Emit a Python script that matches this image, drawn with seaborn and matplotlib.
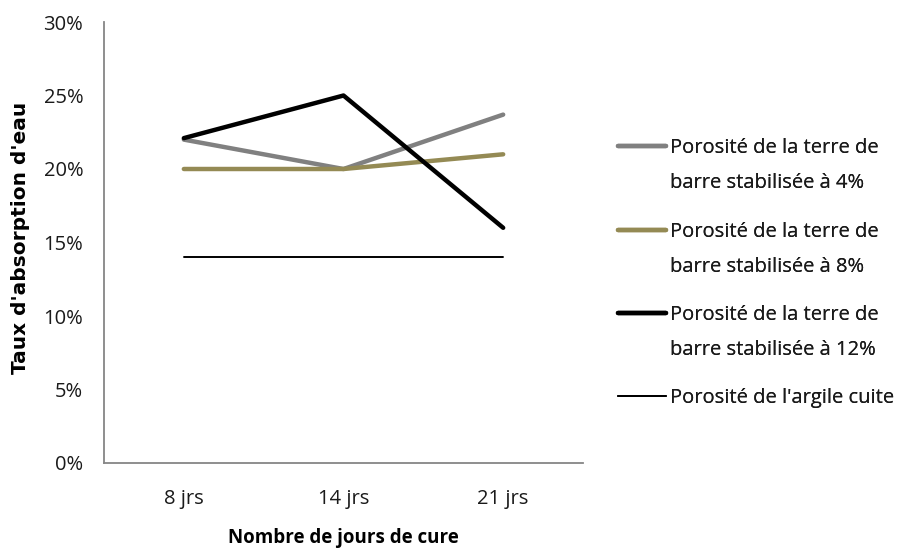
import matplotlib
matplotlib.use("Agg")
import matplotlib.pyplot as plt
import seaborn as sns
import pandas as pd
from matplotlib.ticker import FuncFormatter, FixedLocator

categories = ["8 jrs", "14 jrs", "21 jrs"]
series_names = [
    "Porosité de la terre de\nbarre stabilisée à 4%",
    "Porosité de la terre de\nbarre stabilisée à 8%",
    "Porosité de la terre de\nbarre stabilisée à 12%",
    "Porosité de l'argile cuite",
]
s4 = [0.22, 0.20, 0.237]
s8 = [0.20, 0.20, 0.21]
s12 = [0.221, 0.25, 0.160]
argile = [0.14, 0.14, 0.14]

colors = ["#808080", "#948A54", "#000000", "#000000"]
widths = [3.2, 3.2, 3.2, 1.4]

rows = []
for name, vals in zip(series_names, [s4, s8, s12, argile]):
    for i, (c, v) in enumerate(zip(categories, vals)):
        rows.append({"serie": name, "pos": i, "cat": c, "val": v})
df = pd.DataFrame(rows)

sns.set_theme(style="white")
plt.rcParams["font.family"] = ["Open Sans", "DejaVu Sans"]

fig = plt.figure(figsize=(9.01, 5.53), dpi=100)
ax = fig.add_axes([104/901, 1-463/553, (583-104)/901, (463-22)/553])

sns.lineplot(data=df, x="pos", y="val", hue="serie", hue_order=series_names,
             palette=colors, ax=ax, legend=False)
for line, lw in zip(ax.get_lines(), widths):
    line.set_linewidth(lw)
    line.set_solid_capstyle("round")

ax.set_xlim(-0.5, 2.5)
ax.set_ylim(0, 0.30)
ax.set_yticks([0, 0.05, 0.10, 0.15, 0.20, 0.25, 0.30])
ax.yaxis.set_major_formatter(FuncFormatter(lambda v, p: f"{v*100:.0f}%"))
ax.set_xticks(range(len(categories)))
ax.set_xticklabels(categories)
ax.xaxis.set_minor_locator(FixedLocator([-0.5, 0.5, 1.5, 2.5]))
ax.tick_params(axis="x", which="major", length=0, pad=19, labelsize=14.5, colors="#1a1a1a")
ax.tick_params(axis="x", which="minor", length=5, width=1.3, color="#868686", direction="out")
ax.tick_params(axis="y", which="major", length=5, width=1.3, color="#868686", direction="out",
               labelsize=14.5, pad=10)
ax.tick_params(axis="y", colors="#868686", labelcolor="#1a1a1a")
for s in ["top", "right"]:
    ax.spines[s].set_visible(False)
for s in ["left", "bottom"]:
    ax.spines[s].set_color("#868686")
    ax.spines[s].set_linewidth(1.3)

ax.set_xlabel("Nombre de jours de cure", fontsize=13.5, fontweight="bold", color="#000000")
ax.xaxis.set_label_coords(0.5, -(538-463)/441, transform=ax.transAxes)
ax.xaxis.label.set_va("center")
ax.set_ylabel("Taux d'absorption d'eau", fontsize=14.5, fontweight="bold", color="#000000",
              family=["DejaVu Sans"])
ax.yaxis.set_label_coords(-(104-21)/479, (463-238)/441, transform=ax.transAxes)
ax.yaxis.label.set_va("center")

first_line_y = [148, 232, 315, 398]
for name, c, lw, yc in zip(series_names, colors, widths, first_line_y):
    parts = name.split("\n")
    h = [plt.Line2D([], [], color=c, lw=lw, solid_capstyle="round")]
    if len(parts) > 1:
        h.append(plt.Line2D([], [], color="none"))
    off = 17.5 if len(parts) > 1 else 0
    leg = fig.legend(h, parts, loc="center left", bbox_to_anchor=(618/901, 1-(yc+off)/553),
                     frameon=False, fontsize=14.5, handlelength=2.4, handletextpad=0.2,
                     labelspacing=0.75, borderaxespad=0, borderpad=0)
    for t in leg.get_texts():
        t.set_color("#1a1a1a")
    fig.add_artist(leg)

fig.savefig("out.png", dpi=100)
